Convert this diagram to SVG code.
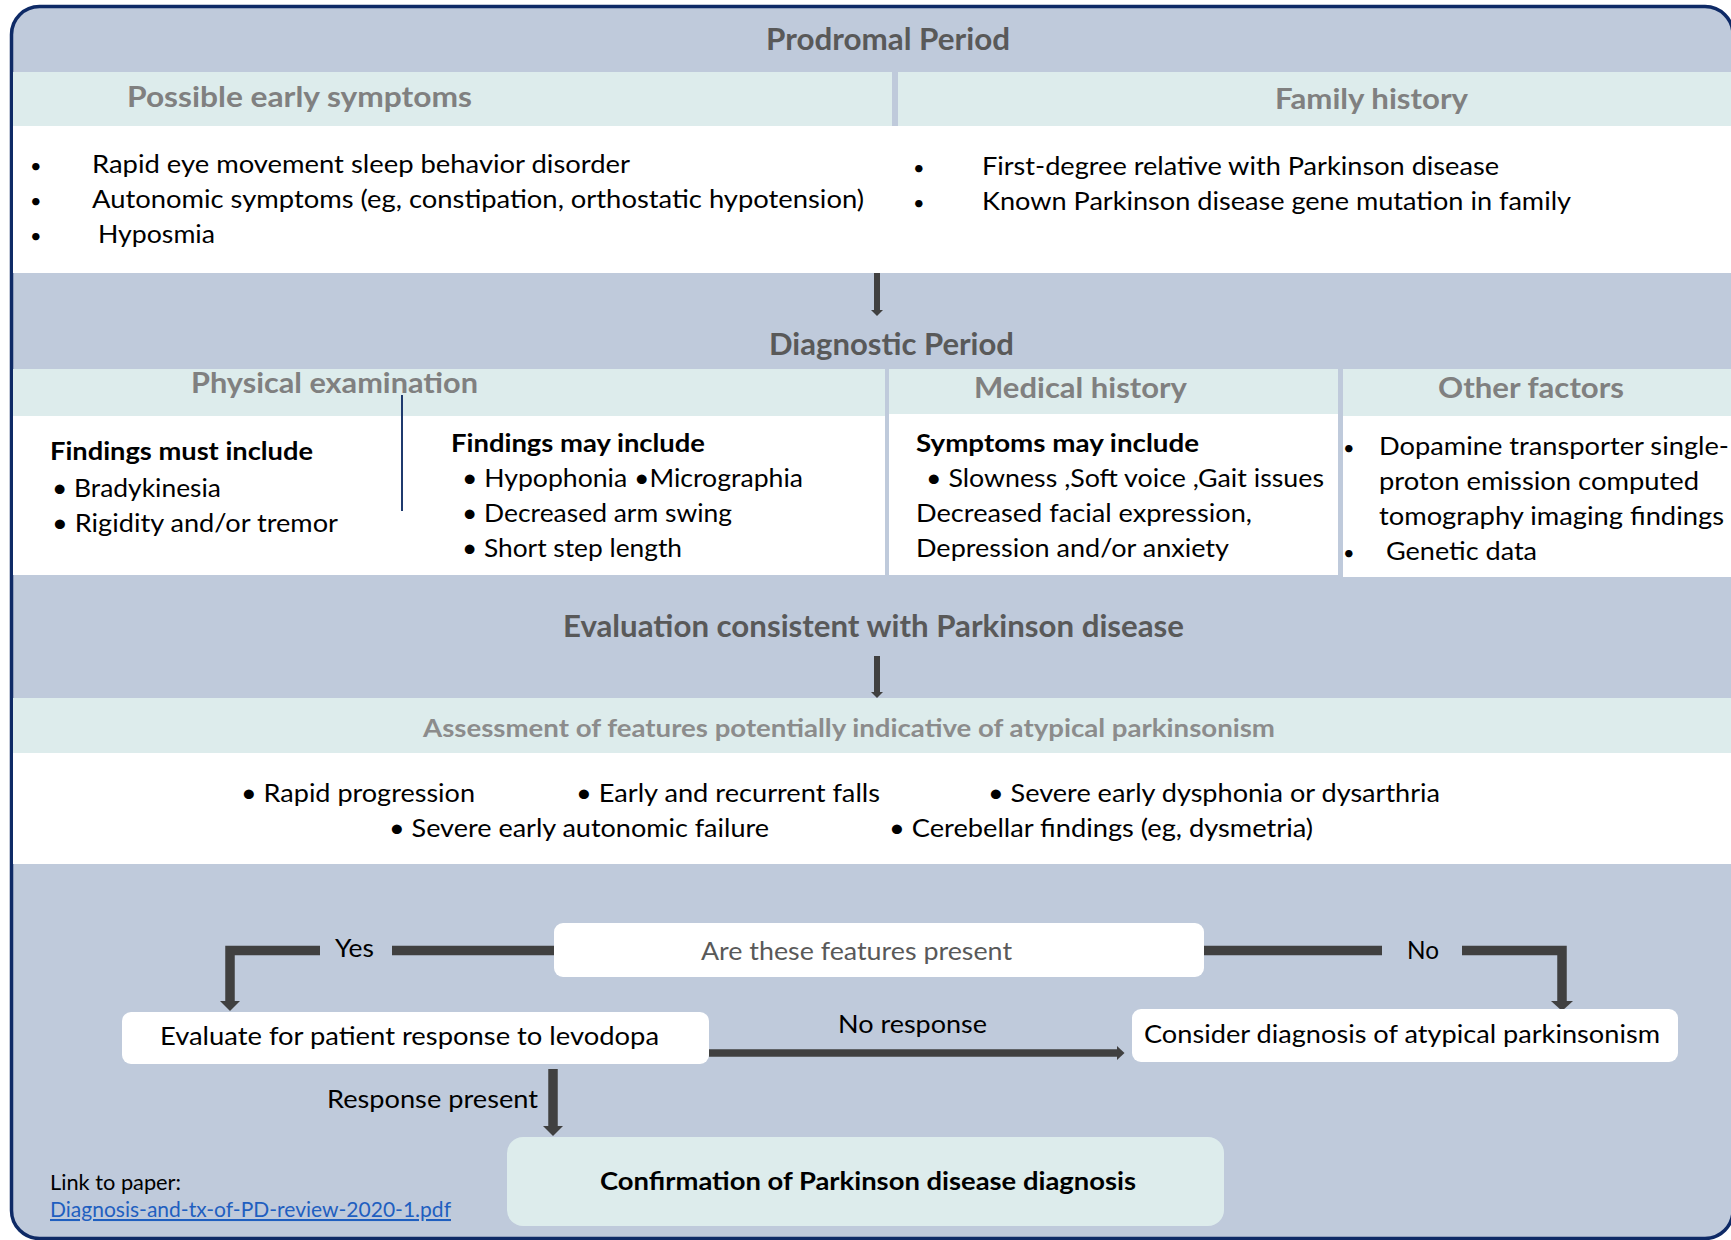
<svg xmlns="http://www.w3.org/2000/svg" width="1731" height="1240" viewBox="0 0 1731 1240">
<style>
text{font-family:Lato,"Open Sans","Liberation Sans",sans-serif;font-size:25.5px;fill:#000}
.h1{font-size:30px;font-weight:bold;fill:#595959}
.h2{font-size:29px;font-weight:bold;fill:#808080}
.h3{font-size:24.5px;font-weight:bold;fill:#8c8c8c}
.g5{fill:#595959}
.b{font-weight:bold}
.dot{font-size:20px}
.sm{font-size:20.5px}
.link{font-size:20.5px;fill:#1f5fc0;text-decoration:underline}
.band{fill:#ddecec}
.wh{fill:#ffffff}
.box{fill:#ffffff}
.conn{stroke:#404040;fill:none;stroke-linejoin:miter}
.head{fill:#404040}
</style>
<rect x="11.5" y="6.5" width="1721.5" height="1232" rx="28" fill="#bfcadb" stroke="#0e2a66" stroke-width="3.5"/>

<g id="prodromal">
<text class="h1" x="766" y="50" textLength="244" lengthAdjust="spacingAndGlyphs">Prodromal Period</text>
</g>
<g id="early-symptoms">
<rect class="band" x="13" y="72" width="879" height="54"/>
<rect class="wh" x="13" y="126" width="880" height="147"/>
<text class="h2" x="127" y="107" textLength="345" lengthAdjust="spacingAndGlyphs">Possible early symptoms</text>
<text class="dot" x="30" y="173">•</text>
<text x="92" y="173" textLength="538" lengthAdjust="spacingAndGlyphs">Rapid eye movement sleep behavior disorder</text>
<text class="dot" x="30" y="208">•</text>
<text x="92" y="208" textLength="772" lengthAdjust="spacingAndGlyphs">Autonomic symptoms (eg, constipation, orthostatic hypotension)</text>
<text class="dot" x="30" y="243">•</text>
<text x="98" y="243" textLength="117" lengthAdjust="spacingAndGlyphs">Hyposmia</text>
</g>
<g id="family-history">
<rect class="band" x="898" y="72" width="833" height="54"/>
<rect class="wh" x="892" y="126" width="839" height="147"/>
<text class="h2" x="1275" y="109" textLength="193" lengthAdjust="spacingAndGlyphs">Family history</text>
<text class="dot" x="913" y="175">•</text>
<text x="982" y="175" textLength="517" lengthAdjust="spacingAndGlyphs">First-degree relative with Parkinson disease</text>
<text class="dot" x="913" y="210">•</text>
<text x="982" y="210" textLength="589" lengthAdjust="spacingAndGlyphs">Known Parkinson disease gene mutation in family</text>
</g>

<g id="diagnostic">
<text class="h1" x="769" y="355" textLength="245" lengthAdjust="spacingAndGlyphs">Diagnostic Period</text>
</g>
<g id="physical-exam">
<rect class="band" x="13" y="369" width="872" height="47"/>
<rect class="wh" x="13" y="416" width="872" height="159"/>
<text class="h2" x="191" y="393" textLength="287" lengthAdjust="spacingAndGlyphs">Physical examination</text>
<line x1="402" y1="395" x2="402" y2="511" stroke="#1f3a6e" stroke-width="2"/>
<text class="b" x="50" y="460" textLength="263" lengthAdjust="spacingAndGlyphs">Findings must include</text>
<text x="52" y="497" textLength="169" lengthAdjust="spacingAndGlyphs">• Bradykinesia</text>
<text x="52" y="532" textLength="286" lengthAdjust="spacingAndGlyphs">• Rigidity and/or tremor</text>
<text class="b" x="451" y="452" textLength="254" lengthAdjust="spacingAndGlyphs">Findings may include</text>
<text x="462" y="487" textLength="341" lengthAdjust="spacingAndGlyphs">• Hypophonia •Micrographia</text>
<text x="462" y="522" textLength="270" lengthAdjust="spacingAndGlyphs">• Decreased arm swing</text>
<text x="462" y="557" textLength="220" lengthAdjust="spacingAndGlyphs">• Short step length</text>
</g>
<g id="medical-history">
<rect class="band" x="889" y="369" width="449" height="47"/>
<rect class="wh" x="889" y="414" width="449" height="161"/>
<text class="h2" x="974" y="398" textLength="213" lengthAdjust="spacingAndGlyphs">Medical history</text>
<text class="b" x="916" y="452" textLength="283" lengthAdjust="spacingAndGlyphs">Symptoms may include</text>
<text x="926" y="487" textLength="398" lengthAdjust="spacingAndGlyphs">• Slowness ,Soft voice ,Gait issues</text>
<text x="916" y="522" textLength="336" lengthAdjust="spacingAndGlyphs">Decreased facial expression,</text>
<text x="916" y="557" textLength="313" lengthAdjust="spacingAndGlyphs">Depression and/or anxiety</text>
</g>
<g id="other-factors">
<rect class="band" x="1343" y="369" width="388" height="47"/>
<rect class="wh" x="1343" y="416" width="388" height="161"/>
<text class="h2" x="1438" y="398" textLength="186" lengthAdjust="spacingAndGlyphs">Other factors</text>
<text class="dot" x="1343" y="455">•</text>
<text x="1379" y="455" textLength="350" lengthAdjust="spacingAndGlyphs">Dopamine transporter single-</text>
<text x="1379" y="490" textLength="320" lengthAdjust="spacingAndGlyphs">proton emission computed</text>
<text x="1379" y="525" textLength="345" lengthAdjust="spacingAndGlyphs">tomography imaging findings</text>
<text class="dot" x="1343" y="560">•</text>
<text x="1386" y="560" textLength="151" lengthAdjust="spacingAndGlyphs">Genetic data</text>
</g>

<g id="evaluation">
<text class="h1" x="563" y="637" textLength="621" lengthAdjust="spacingAndGlyphs">Evaluation consistent with Parkinson disease</text>
</g>
<g id="assessment">
<rect class="band" x="13" y="698" width="1718" height="55"/>
<rect class="wh" x="13" y="753" width="1718" height="111"/>
<text class="h3" x="423" y="737" textLength="852" lengthAdjust="spacingAndGlyphs">Assessment of features potentially indicative of atypical parkinsonism</text>
<text x="241" y="802" textLength="234" lengthAdjust="spacingAndGlyphs">• Rapid progression</text>
<text x="576" y="802" textLength="304" lengthAdjust="spacingAndGlyphs">• Early and recurrent falls</text>
<text x="988" y="802" textLength="452" lengthAdjust="spacingAndGlyphs">• Severe early dysphonia or dysarthria</text>
<text x="389" y="837" textLength="380" lengthAdjust="spacingAndGlyphs">• Severe early autonomic failure</text>
<text x="889" y="837" textLength="424" lengthAdjust="spacingAndGlyphs">• Cerebellar findings (eg, dysmetria)</text>
</g>

<g id="connectors">
<line class="conn" x1="877" y1="273" x2="877" y2="311" stroke-width="6"/>
<polygon class="head" points="871,310 883,310 877,316"/>
<line class="conn" x1="877" y1="656" x2="877" y2="693" stroke-width="6"/>
<polygon class="head" points="871,692 883,692 877,698"/>
<line class="conn" x1="554" y1="950.5" x2="392" y2="950.5" stroke-width="9.5"/>
<polyline class="conn" points="320,950.5 230,950.5 230,1002" stroke-width="9.5"/>
<polygon class="head" points="220,1001 240,1001 230,1011"/>
<line class="conn" x1="1204" y1="950.5" x2="1382" y2="950.5" stroke-width="9.5"/>
<polyline class="conn" points="1462,950.5 1562,950.5 1562,1002" stroke-width="9.5"/>
<polygon class="head" points="1551,1001 1573,1001 1562,1011"/>
<line class="conn" x1="553" y1="1069" x2="553" y2="1127" stroke-width="9.5"/>
<polygon class="head" points="543,1126 563,1126 553,1136"/>
<line class="conn" x1="709" y1="1053" x2="1118" y2="1053" stroke-width="7.5"/>
<polygon class="head" points="1117,1046 1117,1060 1124.5,1053"/>
<text x="335" y="957" textLength="39" lengthAdjust="spacingAndGlyphs">Yes</text>
<text x="1407" y="959" textLength="32" lengthAdjust="spacingAndGlyphs">No</text>
<text x="838" y="1033" textLength="149" lengthAdjust="spacingAndGlyphs">No response</text>
<text x="327" y="1108" textLength="211" lengthAdjust="spacingAndGlyphs">Response present</text>
</g>

<g id="are-features">
<rect class="box" x="554" y="923" width="650" height="54" rx="9"/>
<text class="g5" x="701" y="960" textLength="311" lengthAdjust="spacingAndGlyphs">Are these features present</text>
</g>
<g id="evaluate-levodopa">
<rect class="box" x="122" y="1012" width="587" height="52" rx="9"/>
<text x="160" y="1045" textLength="499" lengthAdjust="spacingAndGlyphs">Evaluate for patient response to levodopa</text>
</g>
<g id="consider-atypical">
<rect class="box" x="1132" y="1009" width="546" height="53" rx="9"/>
<text x="1144" y="1043" textLength="516" lengthAdjust="spacingAndGlyphs">Consider diagnosis of atypical parkinsonism</text>
</g>
<g id="confirmation">
<rect x="507" y="1137" width="717" height="89" rx="16" fill="#ddecec"/>
<text class="b" x="600" y="1190" textLength="536" lengthAdjust="spacingAndGlyphs">Confirmation of Parkinson disease diagnosis</text>
</g>
<g id="link">
<text class="sm" x="50" y="1190" textLength="131" lengthAdjust="spacingAndGlyphs">Link to paper:</text>
<text class="link" x="50" y="1217" textLength="401" lengthAdjust="spacingAndGlyphs">Diagnosis-and-tx-of-PD-review-2020-1.pdf</text>
</g>
</svg>
